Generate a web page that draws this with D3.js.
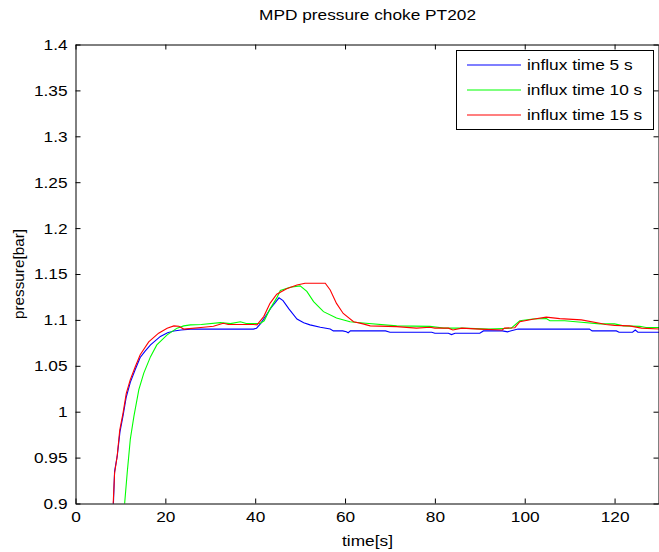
<!DOCTYPE html>
<html>
<head>
<meta charset="utf-8">
<script src="https://cdn.jsdelivr.net/npm/d3@7"></script>
<style>
  body { margin: 0; background: #fff; }
  text { font-family: Arial, "Liberation Sans", sans-serif; fill: #000; }
</style>
</head>
<body>
<div id="chart"></div>
<script>
// ===== data =====
var seriesNames = ["influx time 5 s", "influx time 10 s", "influx time 15 s"];
var seriesColors = ["#0000ff", "#00ff00", "#ff0000"];

var time5 = [8.3, 8.7, 9.3, 9.9, 10.6, 11.3, 12.2, 13.3, 14.4, 15.5, 16.7, 18.9, 20.5, 21.9, 23.5, 25.6, 30, 35, 39.6, 40.3, 41.2, 42.3, 43.5, 44.5, 45.3, 46.2, 47.5, 49.3, 50.8, 52.2, 54.5, 56.7, 57.4, 59.5, 60.3, 60.7, 61.2, 65, 69, 70, 75, 79.3, 80, 83, 83.7, 84.5, 90, 90.8, 95, 96.2, 96.8, 98.5, 105, 114.4, 115, 120.4, 121, 124, 124.6, 125.2, 130];
var press5 = [0.88, 0.935, 0.952, 0.978, 0.996, 1.016, 1.032, 1.046, 1.059, 1.066, 1.0728, 1.082, 1.086, 1.088, 1.089, 1.090, 1.090, 1.090, 1.090, 1.091, 1.096, 1.104, 1.113, 1.119, 1.124, 1.121, 1.112, 1.101, 1.097, 1.0946, 1.092, 1.090, 1.088, 1.088, 1.087, 1.086, 1.088, 1.088, 1.088, 1.0866, 1.0866, 1.0866, 1.0855, 1.0855, 1.084, 1.0855, 1.0855, 1.088, 1.088, 1.087, 1.088, 1.090, 1.090, 1.090, 1.088, 1.088, 1.0866, 1.0866, 1.089, 1.0866, 1.0866];

var time10 = [10.6, 11.5, 12.2, 13, 14.1, 15.2, 16.7, 18.1, 20.4, 22.6, 24.1, 25.6, 28, 32.2, 34.5, 36.7, 38, 41.1, 42, 43.3, 44.8, 45.6, 47.8, 50, 51.5, 53, 55.2, 58.1, 61.1, 64, 71.5, 78.9, 82, 86, 92, 97, 98.9, 101.8, 104.8, 105.6, 108.9, 112.6, 116.7, 120, 122, 125.6, 127, 130];
var press10 = [0.88, 0.933, 0.970, 0.995, 1.024, 1.042, 1.060, 1.0728, 1.0837, 1.091, 1.0935, 1.0946, 1.095, 1.097, 1.096, 1.098, 1.096, 1.096, 1.099, 1.112, 1.124, 1.132, 1.1355, 1.137, 1.131, 1.120, 1.109, 1.102, 1.098, 1.0967, 1.0935, 1.093, 1.091, 1.091, 1.090, 1.091, 1.099, 1.101, 1.1015, 1.099, 1.099, 1.0975, 1.0957, 1.0957, 1.0935, 1.093, 1.0917, 1.0917];

var time15 = [8.2, 8.7, 9.26, 9.85, 10.6, 11.3, 12.2, 13.3, 14.4, 16.3, 18.5, 20.4, 21.9, 23, 24.1, 28.5, 30.7, 32.9, 34, 36.7, 39.6, 40.4, 41.9, 43.3, 44.8, 47, 49.3, 51.1, 55.6, 56.7, 58.1, 59.6, 61.9, 64, 65.6, 71.5, 75.9, 78.9, 80, 83, 84, 86, 90, 95, 95.5, 97.8, 98.9, 101.8, 104.8, 107.8, 112.6, 116.7, 118, 120, 123.3, 126, 130];
var press15 = [0.88, 0.933, 0.951, 0.980, 0.999, 1.020, 1.035, 1.049, 1.062, 1.076, 1.0855, 1.091, 1.0935, 1.093, 1.090, 1.092, 1.093, 1.0964, 1.095, 1.095, 1.095, 1.0946, 1.1036, 1.118, 1.128, 1.134, 1.138, 1.140, 1.140, 1.1326, 1.118, 1.107, 1.098, 1.0957, 1.0935, 1.0927, 1.091, 1.092, 1.091, 1.091, 1.089, 1.091, 1.090, 1.089, 1.091, 1.0915, 1.098, 1.1007, 1.103, 1.1014, 1.100, 1.0964, 1.095, 1.094, 1.0935, 1.091, 1.090];

var xTicks = [0, 20, 40, 60, 80, 100, 120];
var yTicks = [0.9, 0.95, 1, 1.05, 1.1, 1.15, 1.2, 1.25, 1.3, 1.35, 1.4];

function pressureChart()
{
  var w = 659;
  var h = 552;

  var left = 75.5, right = 659.5, top = 44.5, bottom = 503.5;

  // the original figure is a bit wider than tall, so the glyphs look stretched
  var stretch = "scale(1.13,1)";
  var fontSize = "15.3px";

  var svg = d3.select("#chart")
              .append("svg")
              .attr("width", w)
              .attr("height", h);

  var x = d3.scaleLinear().domain([0, 130]).range([left, right]);
  var y = d3.scaleLinear().domain([0.9, 1.4]).range([bottom, top]);

  // clip lines to the axes box
  svg.append("clipPath")
     .attr("id", "plotclip")
     .append("rect")
     .attr("x", left).attr("y", top)
     .attr("width", right - left).attr("height", bottom - top);

  var series = [
    { name: seriesNames[0], color: seriesColors[0], t: time5, p: press5 },
    { name: seriesNames[1], color: seriesColors[1], t: time10, p: press10 },
    { name: seriesNames[2], color: seriesColors[2], t: time15, p: press15 }
  ];

  var line = d3.line()
               .x(function(d) { return x(d[0]); })
               .y(function(d) { return y(d[1]); });

  svg.append("g")
     .attr("clip-path", "url(#plotclip)")
     .selectAll("path")
     .data(series)
     .enter()
     .append("path")
     .attr("fill", "none")
     .attr("stroke", function(d) { return d.color; })
     .attr("stroke-width", 1.1)
     .attr("d", function(d) {
       return line(d.t.map(function(v, i) { return [v, d.p[i]]; }));
     });

  // MATLAB style axes: ticks inward on all four sides
  var tickLen = 5;
  var axisBottom = d3.axisBottom(x).tickValues(xTicks).tickSizeInner(-tickLen).tickSizeOuter(0).tickPadding(8);
  var axisTop = d3.axisTop(x).tickValues(xTicks).tickSizeInner(-tickLen).tickSizeOuter(0).tickFormat("");
  var axisLeft = d3.axisLeft(y).tickValues(yTicks).tickSizeInner(-tickLen).tickSizeOuter(0).tickPadding(7)
                   .tickFormat(function(d) { return d3.format("")(+d.toFixed(2)); });
  var axisRight = d3.axisRight(y).tickValues(yTicks).tickSizeInner(-tickLen).tickSizeOuter(0).tickFormat("");

  svg.append("g").attr("transform", "translate(0," + bottom + ")").call(axisBottom);
  svg.append("g").attr("transform", "translate(0," + top + ")").call(axisTop);
  svg.append("g").attr("transform", "translate(" + left + ",0)").call(axisLeft);
  svg.append("g").attr("transform", "translate(" + (right - 1) + ",0)").call(axisRight);

  svg.selectAll(".domain").attr("stroke", "#000");
  svg.selectAll(".tick line").attr("stroke", "#000");
  svg.selectAll(".tick text")
     .attr("font-family", "Arial, 'Liberation Sans', sans-serif")
     .attr("font-size", fontSize)
     .attr("transform", stretch);

  // titles
  svg.append("text")
     .attr("transform", "translate(" + ((left + right) / 2) + ",20) " + stretch)
     .attr("text-anchor", "middle")
     .attr("font-size", fontSize)
     .text("MPD pressure choke PT202");

  svg.append("text")
     .attr("transform", "translate(" + ((left + right) / 2) + ",546) " + stretch)
     .attr("text-anchor", "middle")
     .attr("font-size", fontSize)
     .text("time[s]");

  svg.append("text")
     .attr("transform", "translate(24," + ((top + bottom) / 2) + ") rotate(-90)")
     .attr("text-anchor", "middle")
     .attr("font-size", fontSize)
     .text("pressure[bar]");

  // legend
  var legend = svg.append("g");
  legend.append("rect")
        .attr("x", 456.5).attr("y", 50.5)
        .attr("width", 197).attr("height", 79)
        .attr("fill", "#fff")
        .attr("stroke", "#000");

  var rows = legend.selectAll("g.row")
                   .data(series)
                   .enter()
                   .append("g")
                   .attr("class", "row")
                   .attr("transform", function(d, i) { return "translate(0," + (65 + i * 25) + ")"; });

  rows.append("line")
      .attr("x1", 467).attr("x2", 521)
      .attr("y1", 0).attr("y2", 0)
      .attr("stroke-width", 1.2)
      .attr("stroke", function(d) { return d.color; });

  rows.append("text")
      .attr("transform", "translate(527,0) " + stretch)
      .attr("dy", "0.35em")
      .attr("font-size", fontSize)
      .text(function(d) { return d.name; });
}

window.onload = pressureChart;
</script>
</body>
</html>
